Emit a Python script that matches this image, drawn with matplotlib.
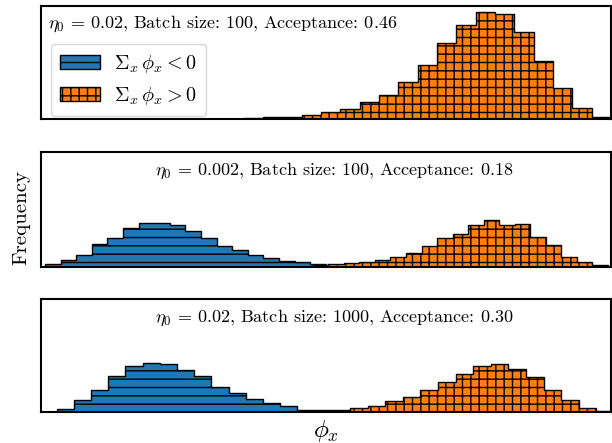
import numpy as np
from matplotlib import pyplot as plt

plt.rcParams['font.family'] = ['cmr10', 'DejaVu Serif']
plt.rcParams['mathtext.fontset'] = 'cm'
plt.rcParams['axes.formatter.use_mathtext'] = True
plt.rcParams['hatch.linewidth'] = 1.0

# titles of the three runs
titles = [r"$\eta_0\, =\, 0.02$, Batch size: 100, Acceptance: 0.46",
          r"$\eta_0\, =\, 0.002$, Batch size: 100, Acceptance: 0.18",
          r"$\eta_0\, =\, 0.02$, Batch size: 1000, Acceptance: 0.30"]
neg_label = r'$\Sigma_x\,\phi_x < 0$'
pos_label = r'$\Sigma_x\,\phi_x > 0$'

# histogram bins: (first edge, bin width) and counts per bin
# run 1 : only positive sector
pos1_start, pos1_width = -0.726, 0.1935
pos1_counts = [8, 14, 34, 46, 80, 134, 200, 340, 480, 740, 1080, 1520,
               1880, 2140, 2090, 1740, 1160, 620, 220, 46]
# run 2
neg2_start, neg2_width = -2.52, 0.156
neg2_counts = [40, 120, 234, 454, 566, 766, 854, 866, 814, 700, 566, 406,
               320, 234, 166, 100, 86, 40]
pos2_start, pos2_width = 0.158, 0.1555
pos2_counts = [34, 46, 66, 94, 134, 194, 266, 400, 560, 646, 826, 926,
               826, 846, 580, 426, 180, 94, 26]
# run 3
neg3_start, neg3_width = -2.403, 0.172
neg3_counts = [66, 234, 446, 720, 914, 986, 966, 834, 714, 500, 380, 266,
               180, 114, 46]
pos3_start, pos3_width = 0.18, 0.176
pos3_counts = [34, 46, 80, 126, 214, 300, 446, 600, 766, 920, 966, 866,
               700, 434, 234, 80, 20]

runs = [(None, None, None, pos1_start, pos1_width, pos1_counts),
        (neg2_start, neg2_width, neg2_counts, pos2_start, pos2_width, pos2_counts),
        (neg3_start, neg3_width, neg3_counts, pos3_start, pos3_width, pos3_counts)]

fig = plt.figure(figsize=(6.12, 4.43), dpi=100)
boxes = [[0.067, 0.7314, 0.931, 0.2551],
         [0.067, 0.3984, 0.931, 0.2585],
         [0.067, 0.0700, 0.931, 0.2550]]

ymax = max(pos1_counts) * 1.056
axes = []
for i, (nst, nw, nc, pst, pw, pc) in enumerate(runs):
    ax = fig.add_axes(boxes[i])
    axes.append(ax)
    if nc is not None:
        edges = nst + nw * np.arange(len(nc) + 1)
        ax.hist(edges[:-1], bins=edges, weights=nc, histtype='stepfilled',
                facecolor='#1f77b4', edgecolor='black', hatch='--', lw=1.0,
                label=neg_label)
    else:
        ax.hist([], bins=[0, 1], histtype='stepfilled',
                facecolor='#1f77b4', edgecolor='black', hatch='--', lw=1.0,
                label=neg_label)
    edges = pst + pw * np.arange(len(pc) + 1)
    ax.hist(edges[:-1], bins=edges, weights=pc, histtype='stepfilled',
            facecolor='#ff7f0e', edgecolor='black', hatch='++', lw=1.0,
            label=pos_label)
    ax.set_xlim(-2.56, 3.14)
    ax.set_ylim(0, ymax)
    ax.set_xticks([])
    ax.set_yticks([])
    for s in ax.spines.values():
        s.set_linewidth(1.5)
        s.set_color('black')
    if i == 0:
        ax.text(0.012, 0.93, titles[i], transform=ax.transAxes,
                ha='left', va='top', fontsize=13)
        ax.legend(loc='lower left', bbox_to_anchor=(0.0175, 0.027),
                  borderaxespad=0, fontsize=14.5, labelspacing=0.5,
                  handlelength=2.0, handletextpad=0.7, borderpad=0.45)
    else:
        ax.text(0.514, 0.925, titles[i], transform=ax.transAxes,
                ha='center', va='top', fontsize=13)

axes[1].set_ylabel('Frequency', fontsize=15)
axes[1].yaxis.set_label_coords(-0.019, 0.43)
axes[2].set_xlabel(r'$\phi_x$', fontsize=18)

fig.savefig('out.png', dpi=100)
